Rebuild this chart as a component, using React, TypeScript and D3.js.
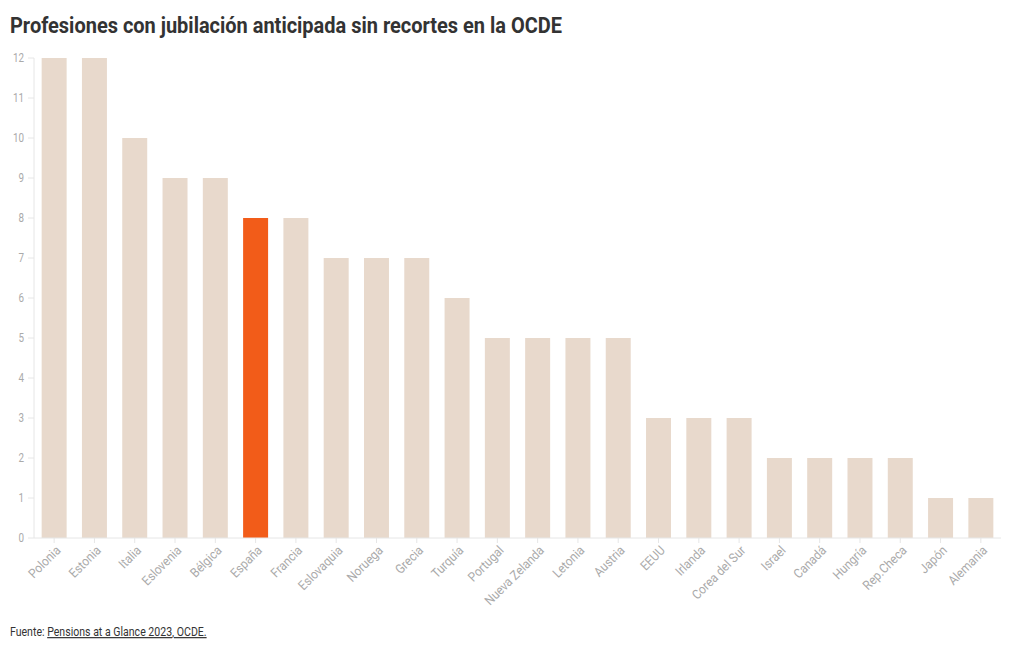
import React from "react";
import * as d3 from "d3";

const countries = ["Polonia","Estonia","Italia","Eslovenia","Bélgica","España","Francia","Eslovaquia","Noruega","Grecia","Turquía","Portugal","Nueva Zelanda","Letonia","Austria","EEUU","Irlanda","Corea del Sur","Israel","Canadá","Hungría","Rep.Checa","Japón","Alemania"];
const values = [12,12,10,9,9,8,8,7,7,7,6,5,5,5,5,3,3,3,2,2,2,2,1,1];
const highlight = "España";
const yTicks = [0,1,2,3,4,5,6,7,8,9,10,11,12];

const W = 1020, H = 650;
const margin = { left: 34, right: 19, top: 58, bottom: 112 };
const FONT = "Roboto, 'Noto Sans', sans-serif";

export default function App() {
  const x = d3.scaleBand<string>().domain(countries).range([margin.left, W - margin.right]).paddingInner(0.38).paddingOuter(0.19);
  const y = d3.scaleLinear().domain([0, 12]).range([H - margin.bottom, margin.top]);
  const y0 = y(0);
  return (
    <svg width={W} height={H} style={{ position: "absolute", left: 0, top: 0, background: "#fff" }}>
      <text x={10} y={33} fontFamily={FONT} fontWeight={700} fontSize={22} fill="#333" textLength={552} lengthAdjust="spacingAndGlyphs">Profesiones con jubilación anticipada sin recortes en la OCDE</text>
      <line x1={margin.left} x2={margin.left} y1={y(12)} y2={y0} stroke="#e6e6e6" />
      {yTicks.map(t => (
        <g key={t}>
          <line x1={margin.left - 6} x2={margin.left} y1={y(t)} y2={y(t)} stroke="#e6e6e6" />
          <text x={24} y={y(t)} dy="0.35em" textAnchor="end" fontFamily={FONT} fontSize={12} fill="#aaa" transform={`translate(${24},0) scale(0.82,1) translate(${-24},0)`}>{t}</text>
        </g>
      ))}
      {countries.map((c, i) => (
        <rect key={c} x={x(c)} y={y(values[i])} width={x.bandwidth()} height={y0 - y(values[i])} fill={c === highlight ? "#f25c19" : "#e8d9cc"} />
      ))}
      <line x1={margin.left} x2={W - margin.right} y1={y0} y2={y0} stroke="#e6e6e6" />
      {countries.map(c => {
        const cx = (x(c) as number) + x.bandwidth() / 2;
        return (
          <g key={c}>
            <line x1={cx} x2={cx} y1={y0} y2={y0 + 5} stroke="#e6e6e6" />
            <text transform={`translate(${cx + 4},${y0 + 10}) rotate(-45) scale(0.9,1)`} textAnchor="end" dy="0.35em" fontFamily={FONT} fontSize={13} fill="#aaa">{c}</text>
          </g>
        );
      })}
      <text x={10} y={636} fontFamily={FONT} fontSize={12} fill="#333" transform="translate(10,0) scale(0.88,1) translate(-10,0)">
        Fuente: <tspan style={{ textDecoration: "underline" }}>Pensions at a Glance 2023, OCDE.</tspan>
      </text>
    </svg>
  );
}
